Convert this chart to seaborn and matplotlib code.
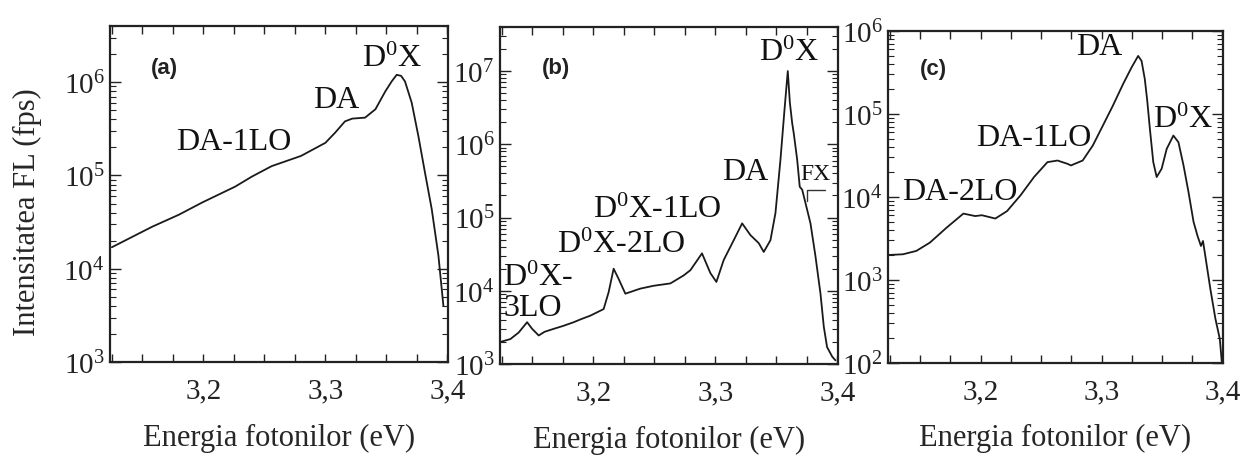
import numpy as np
import pandas as pd
import matplotlib
matplotlib.use("Agg")
import matplotlib.pyplot as plt
import seaborn as sns
from matplotlib.ticker import MultipleLocator, FuncFormatter, LogLocator, LogFormatterMathtext, NullFormatter

# ---------------- data ----------------
energy_a = [3.125, 3.14, 3.158, 3.18, 3.199, 3.226, 3.24, 3.256, 3.28, 3.30, 3.308,
            3.316, 3.322, 3.3325, 3.341, 3.349, 3.3543, 3.3584, 3.362, 3.3652, 3.3707,
            3.3762, 3.3816, 3.3871, 3.3926, 3.3967]
intens_a = [1.70e4, 2.14e4, 2.82e4, 3.80e4, 5.13e4, 7.59e4, 9.77e4, 1.26e5, 1.62e5, 2.24e5, 2.88e5,
            3.80e5, 4.07e5, 4.17e5, 5.13e5, 7.94e5, 1.02e6, 1.20e6, 1.17e6, 1.02e6, 6.03e5,
            2.63e5, 1.07e5, 4.37e4, 1.38e4, 3.98e3]

energy_b = [3.1238, 3.132, 3.1388, 3.1457, 3.1498, 3.1552, 3.160, 3.1675, 3.175, 3.1839, 3.190,
            3.1975, 3.2084, 3.2125, 3.2166, 3.2207, 3.2262, 3.2385, 3.2494, 3.2631, 3.274,
            3.2795, 3.289, 3.2959, 3.3008, 3.3068, 3.315, 3.3219, 3.3287, 3.3355, 3.3396,
            3.3451, 3.3492, 3.3533, 3.3566, 3.3593, 3.361, 3.3629, 3.3642, 3.367, 3.3691,
            3.3711, 3.3738, 3.3779, 3.382, 3.3861, 3.3888, 3.3915, 3.3957, 3.3984]
intens_b = [2.00e3, 2.19e3, 2.69e3, 3.72e3, 3.02e3, 2.45e3, 2.75e3, 3.02e3, 3.30e3, 3.72e3, 4.10e3,
            4.57e3, 5.62e3, 9.55e3, 2.00e4, 1.45e4, 9.12e3, 1.07e4, 1.17e4, 1.26e4, 1.62e4,
            1.91e4, 3.24e4, 1.74e4, 1.32e4, 2.63e4, 4.90e4, 8.32e4, 5.75e4, 4.47e4, 3.39e4,
            4.90e4, 1.15e5, 6.17e5, 2.95e6, 1.00e7, 3.72e6, 1.95e6, 1.41e6, 6.17e5, 2.63e5,
            2.40e5, 1.58e5, 8.32e4, 2.95e4, 9.12e3, 3.24e3, 1.70e3, 1.26e3, 1.12e3]

energy_c = [3.1233, 3.1358, 3.1469, 3.1581, 3.1719, 3.1858, 3.1956, 3.2011, 3.2122, 3.2219,
            3.2331, 3.2442, 3.2553, 3.2636, 3.2719, 3.2747, 3.2844, 3.2928, 3.3011, 3.3094,
            3.3178, 3.3248, 3.3303, 3.3331, 3.3358, 3.3378, 3.34, 3.3428, 3.3456, 3.3497,
            3.3539, 3.3594, 3.3636, 3.3678, 3.3719, 3.3761, 3.3794, 3.3822, 3.3839, 3.3858,
            3.39, 3.3942, 3.3978, 3.3995]
intens_c = [2.00e3, 2.04e3, 2.24e3, 2.82e3, 4.27e3, 6.31e3, 5.89e3, 6.03e3, 5.50e3, 6.76e3,
            1.05e4, 1.74e4, 2.63e4, 2.75e4, 2.51e4, 2.40e4, 2.75e4, 4.17e4, 7.24e4, 1.26e5,
            2.29e5, 3.63e5, 5.01e5, 4.37e5, 2.63e5, 1.45e5, 6.61e4, 2.63e4, 1.74e4, 2.19e4,
            3.80e4, 5.50e4, 4.57e4, 2.40e4, 1.15e4, 5.01e3, 3.39e3, 2.57e3, 2.95e3, 1.95e3,
            776, 339, 195, 100]

panel_tags = ["(a)", "(b)", "(c)"]
ylims = [(1e3, 4e6), (1e3, 4e7), (1e2, 1e6)]
xlim = (3.1235, 3.4005)

# annotation texts: (label, energy, intensity)
labels_a = [("DA-1LO", 3.225, 2.3e5), ("DA", 3.309, 6.5e5), ("D$^{\\mathrm{0}}$X", 3.3545, 1.8e6)]
labels_b = [("D$^{\\mathrm{0}}$X", 3.36, 1.8e7), ("DA", 3.3246, 4.2e5),
            ("D$^{\\mathrm{0}}$X-1LO", 3.2525, 1.3e5), ("D$^{\\mathrm{0}}$X-2LO", 3.223, 4.3e4)]
labels_c = [("DA", 3.2983, 6.5e5), ("D$^{\\mathrm{0}}$X", 3.3675, 8.7e4),
            ("DA-1LO", 3.2442, 5.2e4), ("DA-2LO", 3.1825, 1.17e4)]
fx_bracket_e = [3.3899, 3.3752, 3.3752]
fx_bracket_i = [2.4e5, 2.4e5, 1.66e5]

# ---------------- style ----------------
sns.set_style("ticks")
plt.rcParams['font.family'] = ['Liberation Serif', 'DejaVu Serif']
plt.rcParams['mathtext.fontset'] = 'custom'
plt.rcParams['mathtext.rm'] = 'Liberation Serif'
plt.rcParams['mathtext.it'] = 'Liberation Serif:italic'
plt.rcParams['mathtext.bf'] = 'Liberation Serif:bold'

fig = plt.figure(figsize=(12.46, 4.56), dpi=100)
positions = [[0.0883, 0.2039, 0.2713, 0.7368],
             [0.4013, 0.1996, 0.2713, 0.7390],
             [0.7127, 0.2018, 0.2689, 0.7280]]
axes = [fig.add_axes(p) for p in positions]

datasets = [(energy_a, intens_a), (energy_b, intens_b), (energy_c, intens_c)]
tag_pos = [(0.160, 0.878), (0.166, 0.881), (0.137, 0.886)]
comma = FuncFormatter(lambda v, p: f"{v:.1f}".replace(".", ","))

for i, ax in enumerate(axes):
    e, v = datasets[i]
    df = pd.DataFrame({"E": e, "I": v})
    sns.lineplot(data=df, x="E", y="I", ax=ax, color="#1a1a1a", linewidth=1.3,
                 estimator=None, sort=False)
    ax.set_yscale("log")
    ax.set_xlim(*xlim)
    ax.set_ylim(*ylims[i])
    ax.xaxis.set_major_locator(MultipleLocator(0.1))
    ax.xaxis.set_minor_locator(MultipleLocator(0.025))
    ax.xaxis.set_major_formatter(comma)
    ax.yaxis.set_major_locator(LogLocator(base=10, numticks=20))
    ax.yaxis.set_minor_locator(LogLocator(base=10, subs=np.arange(2, 10), numticks=20))
    ax.yaxis.set_major_formatter(LogFormatterMathtext())
    ax.yaxis.set_minor_formatter(NullFormatter())
    ax.tick_params(axis="both", which="both", direction="in", top=True, right=True,
                   colors="#222222")
    ax.tick_params(axis="x", which="both", length=6, width=1.0, labelsize=21, pad=11)
    ax.tick_params(axis="y", which="major", length=8, width=1.0, labelsize=21, pad=4)
    ax.tick_params(axis="y", which="minor", length=4, width=0.8)
    for s in ax.spines.values():
        s.set_linewidth(1.6)
        s.set_color("#222222")
    ax.set_xlabel("Energia fotonilor (eV)", fontsize=22)
    ax.xaxis.set_label_coords(0.5, -0.18)
    ax.set_ylabel("")
    ax.text(tag_pos[i][0], tag_pos[i][1], panel_tags[i], transform=ax.transAxes,
            fontsize=16, fontweight="bold", family=["Liberation Sans", "DejaVu Sans"],
            ha="center", va="center", color="#222222")

axes[0].set_ylabel("Intensitatea FL (fps)", fontsize=22)
axes[0].yaxis.set_label_coords(-0.20, 0.45)

for (ax, labs) in zip(axes, [labels_a, labels_b, labels_c]):
    for txt, ex, iy in labs:
        ax.text(ex, iy, txt, fontsize=23, ha="center", va="center", color="#111111")

axes[1].text(3.1262, 0.95e4, "D$^{\\mathrm{0}}$X-\n3LO", fontsize=23, ha="left", va="center",
             color="#111111", linespacing=1.05)
axes[1].text(3.382, 4.0e5, "FX", fontsize=17, ha="center", va="center", color="#111111")
axes[1].plot(fx_bracket_e, fx_bracket_i, color="#333333", linewidth=1.0)

fig.savefig("out.png", dpi=100)
